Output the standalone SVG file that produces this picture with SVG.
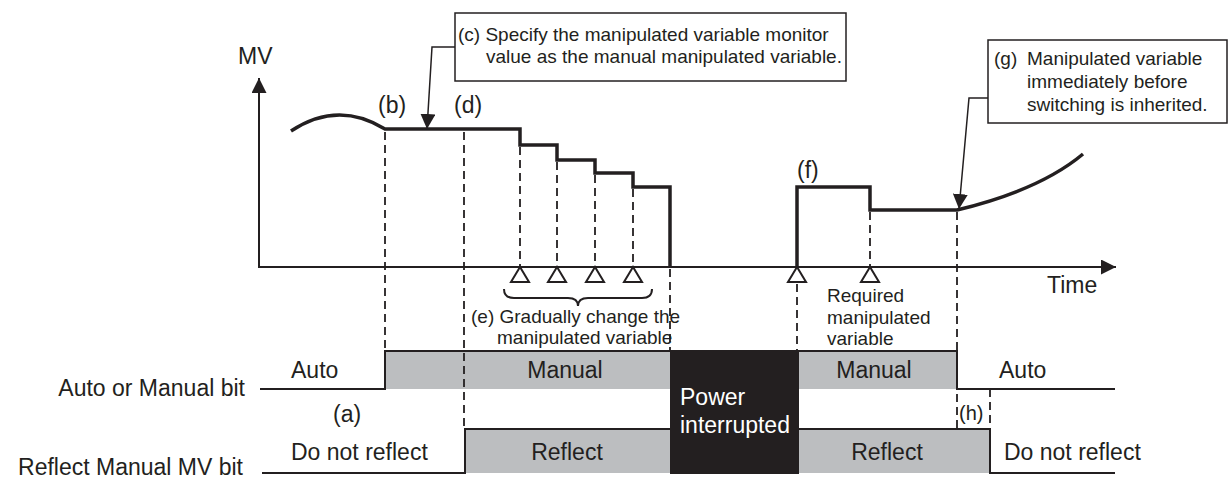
<svg xmlns="http://www.w3.org/2000/svg" width="1230" height="479" viewBox="0 0 1230 479">
<defs>
<style>
.t{font-family:"Liberation Sans",Arial,Helvetica,sans-serif;fill:#231F20}
.L{font-size:23px}
.S{font-size:19px}
.w{fill:#fff}
.ax{stroke:#231F20;stroke-width:2;fill:none}
.mv{stroke:#231F20;stroke-width:3.5;fill:none;stroke-linejoin:miter}
.dash{stroke:#231F20;stroke-width:1.8;stroke-dasharray:8 5;fill:none}
.sig{stroke:#231F20;stroke-width:2;fill:none}
.band{fill:#BCBEC0}
.tri{fill:#fff;stroke:#231F20;stroke-width:2}
.box{fill:#fff;stroke:#231F20;stroke-width:1.5}
.lead{stroke:#231F20;stroke-width:1.5;fill:none}
</style>
<marker id="ah" markerWidth="16" markerHeight="15" refX="15" refY="7.5" orient="auto" markerUnits="userSpaceOnUse">
<path d="M0,0 L15,7.5 L0,15 z" fill="#231F20"/>
</marker>
</defs>
<rect width="1230" height="479" fill="#fff"/>

<g id="axes">
<line class="ax" x1="259" y1="267" x2="259" y2="78" marker-end="url(#ah)"/>
<line class="ax" x1="258" y1="267" x2="1116" y2="267" marker-end="url(#ah)"/>
<text class="t L" x="238" y="64">MV</text>
<text class="t L" x="1047" y="293">Time</text>
</g>

<g id="signal-bands">
<rect class="band" x="385" y="351" width="572" height="38"/>
<rect class="band" x="465" y="429" width="525" height="44"/>
</g>

<g id="connectors">
<line class="dash" x1="385" y1="132" x2="385" y2="351"/>
<line class="dash" x1="464" y1="132" x2="464" y2="429"/>
<line class="dash" x1="520" y1="147" x2="520" y2="267"/>
<line class="dash" x1="557" y1="162" x2="557" y2="267"/>
<line class="dash" x1="595" y1="175" x2="595" y2="267"/>
<line class="dash" x1="633" y1="189" x2="633" y2="267"/>
<line class="dash" x1="670" y1="269" x2="670" y2="350"/>
<line class="dash" x1="797" y1="284" x2="797" y2="351"/>
<line class="dash" x1="870" y1="212" x2="870" y2="267"/>
<line class="dash" x1="957" y1="212" x2="957" y2="429"/>
<line class="dash" x1="990" y1="389" x2="990" y2="429"/>
<polyline class="lead" points="455,47 432,47 427,129" marker-end="url(#ah)"/>
<polyline class="lead" points="988,98 969,98 959,209" marker-end="url(#ah)"/>
</g>

<g id="mv-trace">
<path class="mv" d="M291,131 Q338,100 385,129 H520 V145 H557 V160 H595 V173 H633 V187 H670 V267"/>
<path class="mv" d="M797,267 V187 H870 V210 H957 Q1040,190 1083,154"/>
</g>

<g id="markers">
<polygon class="tri" points="520,267 511,282 529,282"/>
<polygon class="tri" points="557,267 548,282 566,282"/>
<polygon class="tri" points="595,267 586,282 604,282"/>
<polygon class="tri" points="633,267 624,282 642,282"/>
<polygon class="tri" points="797,267 788,282 806,282"/>
<polygon class="tri" points="870,267 861,282 879,282"/>
</g>

<g id="labels">
<text class="t L" x="378" y="113">(b)</text>
<text class="t L" x="454" y="113">(d)</text>
<text class="t L" x="797" y="178">(f)</text>
</g>

<g id="note-c">
<rect class="box" x="455" y="13" width="391" height="68"/>
<text class="t S" x="458" y="41">(c) Specify the manipulated variable monitor</text>
<text class="t S" x="486" y="63">value as the manual manipulated variable.</text>
</g>

<g id="note-g">
<rect class="box" x="988" y="40" width="239" height="83"/>
<text class="t S" x="994" y="65">(g)</text>
<text class="t S" x="1027" y="65">Manipulated variable</text>
<text class="t S" x="1027" y="88">immediately before</text>
<text class="t S" x="1027" y="111">switching is inherited.</text>
</g>

<g id="note-e">
<path class="sig" d="M504,289 Q504,298 514,298 H568 Q578,298 578,306 Q578,298 588,298 H642 Q652,298 652,289"/>
<text class="t S" x="471" y="323">(e) Gradually change the</text>
<text class="t S" x="497" y="344">manipulated variable</text>
</g>

<g id="note-required">
<text class="t S" x="827" y="302">Required</text>
<text class="t S" x="827" y="324">manipulated</text>
<text class="t S" x="827" y="345">variable</text>
</g>

<g id="auto-manual-bit">
<path class="sig" d="M260,389 H385 V351 H670 M799,351 H957 V389 H1115"/>
<text class="t L" x="245" y="396" text-anchor="end">Auto or Manual bit</text>
<text class="t L" x="291" y="378">Auto</text>
<text class="t L" x="333" y="422">(a)</text>
<text class="t L" x="565" y="378" text-anchor="middle">Manual</text>
<text class="t L" x="874" y="378" text-anchor="middle">Manual</text>
<text class="t L" x="999" y="378">Auto</text>
<text class="t" style="font-size:20px" x="959" y="420">(h)</text>
</g>

<g id="reflect-bit">
<path class="sig" d="M262,473 H465 V429 H670 M799,429 H990 V473 H1115"/>
<text class="t L" x="243" y="475" text-anchor="end">Reflect Manual MV bit</text>
<text class="t L" x="291" y="460">Do not reflect</text>
<text class="t L" x="567" y="460" text-anchor="middle">Reflect</text>
<text class="t L" x="887" y="460" text-anchor="middle">Reflect</text>
<text class="t L" x="1004" y="460">Do not reflect</text>
</g>

<g id="power-interrupted">
<rect x="670" y="350" width="129" height="124" fill="#231F20"/>
<text class="t L w" x="680" y="405">Power</text>
<text class="t L w" x="680" y="433">interrupted</text>
</g>
</svg>
